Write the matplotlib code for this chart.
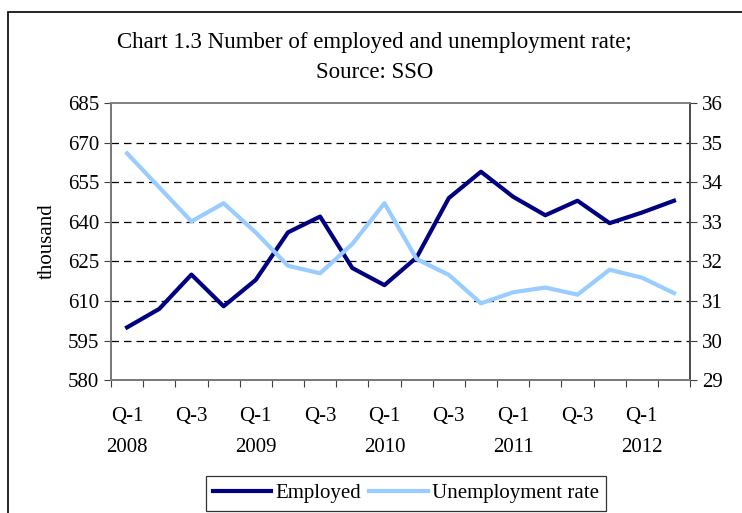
import matplotlib
matplotlib.use("Agg")
from matplotlib import pyplot as plt
from matplotlib.patches import Rectangle
import numpy as np

plt.rcParams['font.family'] = ['Liberation Serif', 'DejaVu Serif']

# quarters 2008 Q1 .. 2012 Q2
quarters = ['Q-1\n2008', '', 'Q-3', '', 'Q-1\n2009', '', 'Q-3', '', 'Q-1\n2010', '',
            'Q-3', '', 'Q-1\n2011', '', 'Q-3', '', 'Q-1\n2012', '']
employed = [600, 607, 620, 608, 618, 636, 642, 622.5, 616, 626.5,
            649, 659, 649.5, 642.5, 648, 639.5, 643.5, 648]
unemp_rate = [34.73, 33.87, 33.01, 33.47, 32.73, 31.89, 31.70, 32.44, 33.47, 32.06,
              31.66, 30.94, 31.22, 31.34, 31.16, 31.79, 31.59, 31.20]

x = np.arange(len(quarters))

fig = plt.figure(figsize=(7.42, 5.13), dpi=100)
ax = fig.add_axes([0.1496, 0.259, 0.7804, 0.540])
ax2 = ax.twinx()

l1, = ax.plot(x, employed, color='#000080', lw=3, label='Employed')
l2, = ax2.plot(x, unemp_rate, color='#99CCFF', lw=3, label='Unemployment rate')

ax.set_xlim(-0.5, len(x) - 0.5)
ax.set_ylim(580, 685)
ax.set_yticks(np.arange(580, 686, 15))
ax2.set_ylim(29, 36)
ax2.set_yticks(np.arange(29, 37, 1))

# gridlines (dashed, black)
for v in np.arange(595, 685, 15):
    ax.axhline(v, color='black', lw=0.9, ls=(0, (6, 4)), zorder=0)

# category boundaries as ticks, labels in between
ax.set_xticks(np.arange(-0.5, len(x), 1))
ax.set_xticklabels([])
ax.set_xticks(x, minor=True)
ax.set_xticklabels(quarters, minor=True, fontsize=15, linespacing=1.9)
ax.tick_params(axis='x', which='minor', length=0, pad=19)
ax.tick_params(axis='x', which='major', direction='out', length=5, color='#404040')
ax.tick_params(axis='y', direction='out', length=5, labelsize=15, color='#404040')
ax2.tick_params(axis='y', direction='out', length=5, labelsize=15, color='#404040')

for a in (ax, ax2):
    for s in a.spines.values():
        s.set_color('#808080')
        s.set_linewidth(1.2)
ax.spines['left'].set_color('#404040')
ax2.spines['right'].set_color('#404040')
ax.spines['bottom'].set_color('#404040')

ax.set_ylabel('thousand', fontsize=15, labelpad=8)

fig.text(0.505, 0.918, 'Chart 1.3 Number of employed and unemployment rate;',
         ha='center', va='center', fontsize=16.5)
fig.text(0.505, 0.858, 'Source: SSO', ha='center', va='center', fontsize=16.5)

leg = fig.legend(handles=[l1, l2], loc='center', bbox_to_anchor=(0.547, 0.038),
                 ncol=2, frameon=True, fancybox=False, fontsize=15,
                 handlelength=2.8, columnspacing=0.4, handletextpad=0.2,
                 borderpad=0.35)
leg.get_frame().set_edgecolor('black')
leg.get_frame().set_linewidth(0.9)

# outer chart frame
fig.patches.append(Rectangle((8 / 742, -0.02), 1.0, 1 - 12 / 513 + 0.02,
                             transform=fig.transFigure, fill=False,
                             edgecolor='black', lw=1.2))

fig.savefig('out.png', dpi=100)
